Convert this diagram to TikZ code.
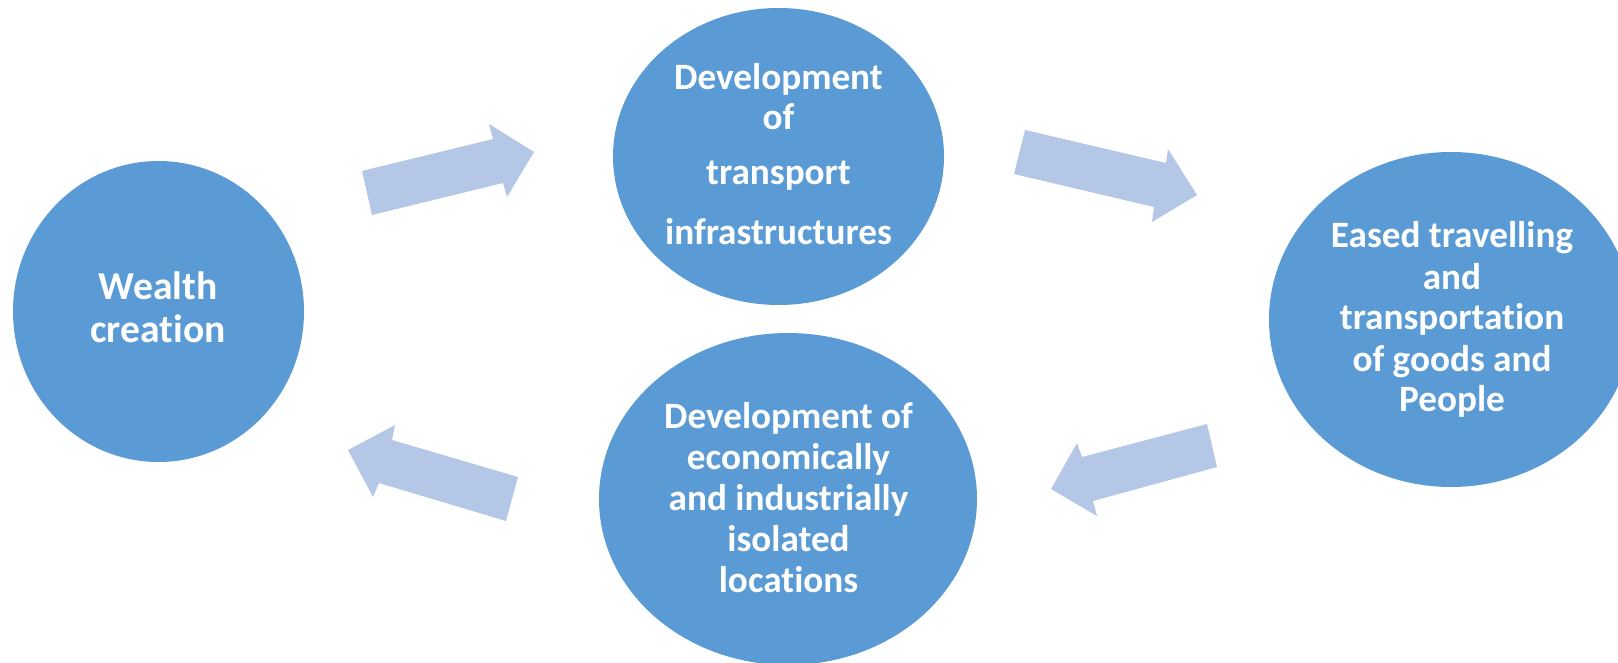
\documentclass[tikz,border=0pt]{standalone}
\usepackage{fontspec}
\setmainfont{Carlito}[Ligatures=NoCommon]
\usetikzlibrary{shapes.geometric}
\definecolor{circblue}{HTML}{5B9BD5}
\definecolor{arrblue}{HTML}{B4C7E7}
\begin{document}
\begin{tikzpicture}[x=0.5pt,y=-0.5pt,
  bubble/.style={ellipse, fill=circblue, draw=none, inner sep=0pt},
  label/.style={anchor=base, align=center, text=white, inner sep=0pt,
    font=\bfseries\fontsize{18.6pt}{20.5pt}\selectfont},
  blockarrow/.style={fill=arrblue, draw=none}]
\useasboundingbox (0,0) rectangle (1618,663);
\clip (0,0) rectangle (1618,663);
% bubbles
\node[bubble, minimum width=291pt/2, minimum height=301pt/2] (wealth) at (158.5,311.5) {};
\node[bubble, minimum width=331pt/2, minimum height=297pt/2] (transport) at (778.5,156.5) {};
\node[bubble, minimum width=364pt/2, minimum height=335pt/2] (eased) at (1451,319.5) {};
\node[bubble, minimum width=378pt/2, minimum height=332pt/2] (isolated) at (788,499) {};
% texts (anchored at the baseline of the last line)
\node[label, font=\bfseries\fontsize{19.8pt}{21.5pt}\selectfont] (twealth) at (158,343) {Wealth\\creation};
\node[label, font=\bfseries\fontsize{18.6pt}{20pt}\selectfont] (ttransport) at (778.5,245) {Development\\of\\[7.5pt]transport\\[10pt]infrastructures};
\node[label] (teased) at (1452,412) {Eased travelling\\and\\transportation\\of goods and\\People};
\node[label] (tisolated) at (788.5,592) {Development of\\economically\\and industrially\\isolated\\locations};
% block arrows
\fill[blockarrow] (362,171) -- (493,139) -- (489,124) -- (534,152) -- (507,197) -- (503,183) -- (372,215) -- cycle;
\fill[blockarrow] (1025,130) -- (1166,163) -- (1168,149) -- (1197,195) -- (1152,222) -- (1154,207) -- (1014,174) -- cycle;
\fill[blockarrow] (1207,424) -- (1082,457) -- (1077,443) -- (1051,489) -- (1097,516) -- (1093,501) -- (1217,467) -- cycle;
\fill[blockarrow] (518,477) -- (392,440) -- (395,425) -- (348,450) -- (373,497) -- (379,483) -- (506,521) -- cycle;
\end{tikzpicture}
\end{document}
